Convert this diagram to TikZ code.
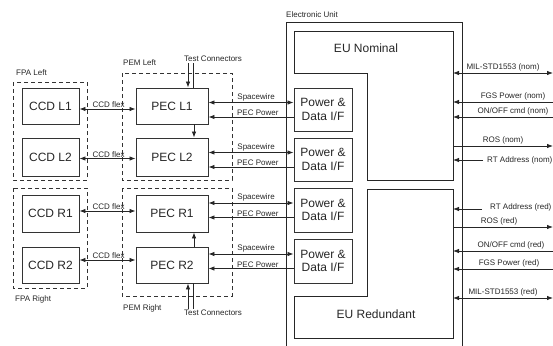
\documentclass[tikz,border=0pt]{standalone}
\usepackage{fontspec}
\setmainfont{Liberation Sans}
\usetikzlibrary{arrows.meta}
\begin{document}
\begin{tikzpicture}[x=1pt,y=-1pt,
  every node/.style={text=black!85},
  box/.style={draw=black!80, line width=0.9pt, inner sep=0pt, font=\fontsize{12}{13}\selectfont},
  ccd/.style={box, minimum width=57pt, minimum height=36pt},
  pec/.style={box, minimum width=72pt, minimum height=36pt},
  pdif/.style={box, minimum width=58pt, minimum height=43pt, align=center, font=\fontsize{12}{13.5}\selectfont},
  grp/.style={draw=black!80, line width=0.8pt, dash pattern=on 4pt off 3pt},
  small/.style={font=\fontsize{8}{9}\selectfont, inner sep=1pt},
  wire/.style={draw=black!85, line width=0.8pt},
  arr/.style={wire, -{Latex[length=6pt,width=4.5pt]}},
  barr/.style={wire, {Latex[length=6pt,width=4.5pt]}-{Latex[length=6pt,width=4.5pt]}},
]
\useasboundingbox (0,0) rectangle (553,345);
\begin{scope}
\clip (0,0) rectangle (553,345);

% group boxes
\draw[grp] (13,82) rectangle (87,180);
\draw[grp] (13,188) rectangle (87,288);
\draw[grp] (122,73) rectangle (232,180);
\draw[grp] (122,188) rectangle (232,296);
\node[small, anchor=west] (fpaL) at (15,73) {FPA Left};
\node[small, anchor=west] (fpaR) at (14,299) {FPA Right};
\node[small, anchor=west] (pemL) at (122,63) {PEM Left};
\node[small, anchor=west] (pemR) at (122,308) {PEM Right};

% CCDs
\node[ccd] (ccdL1) at (50.5,106) {CCD L1};
\node[ccd, minimum height=38pt] (ccdL2) at (50.5,157) {CCD L2};
\node[ccd, minimum height=37pt] (ccdR1) at (50.5,213.5) {CCD R1};
\node[ccd] (ccdR2) at (50.5,265) {CCD R2};

% PECs
\node[pec] (pecL1) at (172,106) {PEC L1};
\node[pec, minimum height=38pt] (pecL2) at (172,157) {PEC L2};
\node[pec, minimum height=37pt] (pecR1) at (172,213.5) {PEC R1};
\node[pec] (pecR2) at (172,265) {PEC R2};

% Electronic unit
\draw[wire, line width=0.9pt] (286,350) -- (286,22) -- (462,22) -- (462,350);
\node[small, anchor=west, inner sep=0pt] (euLab) at (286,15) {Electronic Unit};
\draw[wire, line width=0.9pt] (294,31) -- (453,31) -- (453,180) -- (367,180) -- (367,73) -- (294,73) -- cycle;
\draw[wire, line width=0.9pt] (367,189) -- (453,189) -- (453,338) -- (294,338) -- (294,296) -- (367,296) -- cycle;
\coordinate (nomR) at (453,31);
\coordinate (redR) at (453,189);
\node[font=\fontsize{12}{13}\selectfont] (euNom) at (366,48) {EU Nominal};
\node[font=\fontsize{12}{13}\selectfont] (euRed) at (376,314) {EU Redundant};

% Power & Data I/F
\node[pdif] (pdA) at (323,109.5) {Power \&\\Data I/F};
\node[pdif] (pdB) at (323,159.5) {Power \&\\Data I/F};
\node[pdif, minimum height=44pt] (pdC) at (323,210) {Power \&\\Data I/F};
\node[pdif, minimum height=44pt] (pdD) at (323,261) {Power \&\\Data I/F};

% CCD flex
\foreach \c/\p/\s in {ccdL1/pecL1/-3, ccdL2/pecL2/-1.5, ccdR1/pecR1/2.5, ccdR2/pecR2/5}{
  \draw[barr] ([yshift=\s pt]\c.east) -- node[small, above, pos=0.52] {CCD flex} ([yshift=\s pt]\c.east -| \p.west);
}

% Spacewire / PEC Power
\foreach \d/\p in {pdA/pecL1, pdB/pecL2, pdC/pecR1, pdD/pecR2}{
  \draw[barr] ([yshift=7pt]\d.west -| \p.east) -- node[small, above, pos=0.56] {Spacewire} ([yshift=7pt]\d.west);
  \draw[arr] ([yshift=-7.5pt]\d.west) -- node[small, above, pos=0.42] {PEC Power} ([yshift=-7.5pt]\d.west -| \p.east);
}

% PEC chain
\draw[arr] ([xshift=22pt]pecL1.south) -- ([xshift=22pt]pecL2.north);
\draw[arr] ([xshift=22pt]pecR2.north) -- ([xshift=22pt]pecR1.south);

% Test connectors
\node[small] (tcT) at (213,59) {Test Connectors};
\node[small] (tcB) at (213,313) {Test Connectors};
\draw[arr] ([xshift=16pt]pecL1.north |- tcT.south) -- ([xshift=16pt]pecL1.north);
\draw[wire] ([xshift=21pt]pecL1.north |- tcT.south) -- ([xshift=21pt]pecL1.north);
\draw[arr] ([xshift=16pt]pecR2.south |- tcB.north) -- ([xshift=16pt]pecR2.south);
\draw[wire] ([xshift=21pt]pecR2.south |- tcB.north) -- ([xshift=21pt]pecR2.south);

% Right side interfaces
\coordinate (milN) at (553,73);
\coordinate (fgsN) at (553,102);
\coordinate (onN) at (553,117);
\coordinate (rosN) at (553,146);
\coordinate (rtN) at (483,160);
\coordinate (rtR) at (482,209);
\coordinate (rosR) at (553,227);
\coordinate (onR) at (553,251);
\coordinate (fgsR) at (553,269);
\coordinate (milR) at (553,298);

\draw[barr] (milN -| nomR) -- node[small, above] {MIL-STD1553 (nom)} (milN);
\draw[arr] (fgsN) -- node[small, above, pos=0.4] {FGS Power (nom)} (fgsN -| nomR);
\draw[arr] (onN) -- node[small, above, pos=0.4] {ON/OFF cmd (nom)} (onN -| nomR);
\draw[arr] (rosN -| nomR) -- node[small, above, pos=0.5] {ROS (nom)} (rosN);
\draw[arr] (rtN) -- (rtN -| nomR);
\node[small, anchor=west] (rtNl) at (rtN) [xshift=3pt] {RT Address (nom)};

\draw[arr] (rtR) -- (rtR -| redR);
\node[small, anchor=west] (rtRl) at (rtR) [xshift=7pt, yshift=1.5pt] {RT Address (red)};
\draw[arr] (rosR -| redR) -- node[small, above, pos=0.46] {ROS (red)} (rosR);
\draw[arr] (onR) -- node[small, above, pos=0.42] {ON/OFF cmd (red)} (onR -| redR);
\draw[arr] (fgsR) -- node[small, above, pos=0.44] {FGS Power (red)} (fgsR -| redR);
\draw[barr] (milR -| redR) -- node[small, above] {MIL-STD1553 (red)} (milR);
\end{scope}
\end{tikzpicture}
\end{document}
